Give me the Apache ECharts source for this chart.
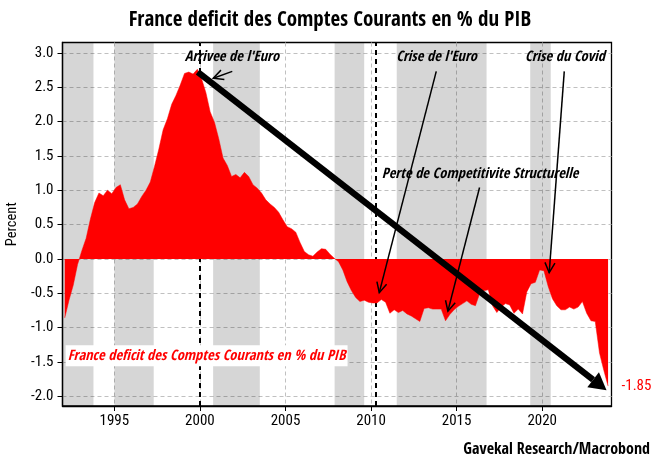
<!DOCTYPE html><html><head><meta charset="utf-8"><style>html,body{margin:0;background:#fff}#c{width:661px;height:470px}</style>
<script src="https://cdn.jsdelivr.net/npm/echarts@6/dist/echarts.min.js"></script></head><body><div id="c"></div><script>
const startYear=1992.1;
const values=[-0.86,-0.6,-0.38,-0.08,0.12,0.3,0.58,0.82,0.96,0.92,1.0,0.95,1.04,1.08,0.86,0.73,0.75,0.8,0.91,1.0,1.12,1.35,1.6,1.88,2.04,2.25,2.38,2.53,2.7,2.72,2.69,2.76,2.62,2.42,2.14,1.99,1.75,1.47,1.36,1.2,1.23,1.18,1.26,1.2,1.08,1.03,0.96,0.86,0.8,0.75,0.68,0.57,0.47,0.44,0.39,0.24,0.11,0.06,0.04,0.1,0.15,0.14,0.07,0.01,-0.04,-0.16,-0.33,-0.46,-0.56,-0.62,-0.6,-0.63,-0.64,-0.64,-0.59,-0.63,-0.79,-0.74,-0.78,-0.75,-0.8,-0.83,-0.87,-0.91,-0.72,-0.71,-0.73,-0.73,-0.73,-0.9,-0.81,-0.74,-0.69,-0.65,-0.61,-0.66,-0.68,-0.5,-0.46,-0.45,-0.68,-0.78,-0.7,-0.65,-0.67,-0.79,-0.73,-0.8,-0.48,-0.36,-0.34,-0.16,-0.17,-0.4,-0.58,-0.68,-0.74,-0.74,-0.7,-0.73,-0.7,-0.62,-0.79,-0.9,-0.91,-1.37,-1.62,-1.85];
const tickYears=[1995,2000,2005,2010,2015,2020];
const yTicks=[-2,-1.5,-1,-0.5,0,0.5,1,1.5,2,2.5,3];
const bands=[[1991.97,1993.78],[1995,1997.3],[2000.77,2003.5],[2007.87,2009.6],[2011.5,2016.75],[2019.3,2020.5]];
const dashedYears=[2000,2010.27];
const bigArrow=[[1999.87,2.72,2023.76,-1.91]];
const thinArrows=[[2001.89,2.73,2000.78,2.63],[2013.81,2.73,2010.48,-0.49],[2016.34,1.04,2014.49,-0.76],[2021.29,2.73,2020.41,-0.2]];
const notes=[["Arrivee de l'Euro",2001.87,2.93],["Crise de l'Euro",2013.83,2.93],["Crise du Covid",2021.33,2.93],["Perte de Competitivite Structurelle",2016.37,1.23]];
const seriesName="France deficit des Comptes Courants en % du PIB";
const F='"Open Sans Condensed","Roboto Condensed",sans-serif';
const R='"Roboto Condensed",sans-serif';
const points=values.map((v,i)=>[startYear+i/4,v]);
const noteLabel=n=>({coord:[n[1],n[2]],symbolSize:0,label:{show:true,position:'inside',formatter:n[0],color:'#000',fontFamily:F,fontWeight:'bold',fontStyle:'italic',fontSize:14.5}});
function arrowItem(lineW,headLen,headHalf,open){return (params,api)=>{
 const a=api.coord([api.value(0),api.value(1)]),b=api.coord([api.value(2),api.value(3)]);
 const dx=b[0]-a[0],dy=b[1]-a[1],L=Math.hypot(dx,dy),ux=dx/L,uy=dy/L;
 const bx=b[0]-ux*headLen,by=b[1]-uy*headLen;
 const p1=[bx-uy*headHalf,by+ux*headHalf],p2=[bx+uy*headHalf,by-ux*headHalf];
 const end=open?b:[bx,by];
 const kids=[{type:'polyline',shape:{points:[a,end]},style:{stroke:'#000',lineWidth:lineW,fill:null}}];
 kids.push(open?{type:'polyline',shape:{points:[p1,b,p2]},style:{stroke:'#000',lineWidth:lineW,fill:null}}
  :{type:'polygon',shape:{points:[p1,b,p2]},style:{fill:'#000'}});
 return {type:'group',children:kids};
};}
const chart=echarts.init(document.getElementById('c'),null,{renderer:'canvas'});
const axisCommon={axisLine:{onZero:false,lineStyle:{color:'#000',width:1.3}},splitLine:{show:true,lineStyle:{color:'#c0c0c0',type:[4,3],width:1}}};
chart.setOption({animation:false,
title:{text:seriesName,left:325,top:5,textAlign:'center',textStyle:{fontFamily:F,fontSize:21,fontWeight:'bold',color:'#000'}},
graphic:[{type:'text',right:11,top:442,style:{text:'Gavekal Research/Macrobond',fontFamily:F,fontWeight:'bold',fontSize:16,fill:'#000'}}],
grid:{left:62.5,right:49.5,top:42.5,bottom:64,show:true,borderColor:'#000',borderWidth:1.3,outerBoundsMode:'none'},
xAxis:{type:'value',min:1991.97,max:2024.05,...axisCommon,
 axisTick:{customValues:tickYears,length:5,lineStyle:{color:'#000'}},
 axisLabel:{customValues:tickYears,formatter:v=>String(v),color:'#000',fontFamily:R,fontSize:15,margin:8}},
yAxis:{type:'value',min:-2.14,max:3.15,name:'Percent',nameLocation:'middle',nameGap:34,nameRotate:90,nameTextStyle:{fontFamily:R,fontSize:14.5,color:'#000'},...axisCommon,
 axisTick:{customValues:yTicks,length:5,lineStyle:{color:'#000'}},
 axisLabel:{customValues:yTicks,formatter:v=>v.toFixed(1),color:'#000',fontFamily:R,fontSize:15,margin:9}},
series:[
{type:'line',z:1,data:[],silent:true,
 markArea:{silent:true,itemStyle:{color:'rgba(0,0,0,0.16)'},data:bands.map(b=>[{xAxis:b[0]},{xAxis:b[1]}])},
 markLine:{z:1,silent:true,symbol:'none',label:{show:false},lineStyle:{color:'#000',type:[5,4],width:2},data:dashedYears.map(x=>({xAxis:x}))}},
{name:seriesName,type:'line',z:2,data:points,showSymbol:false,smooth:false,lineStyle:{color:'#f00',width:0.5},itemStyle:{color:'#f00'},areaStyle:{color:'#f00',opacity:1,origin:0},
 markPoint:{z:7,silent:true,symbol:'circle',symbolSize:0,data:[...notes.map(noteLabel),
  {coord:[2000.39,-1.41],symbolSize:0,label:{show:true,position:'inside',formatter:seriesName,color:'#f00',backgroundColor:'#fff',padding:[3,2],fontFamily:F,fontWeight:'bold',fontStyle:'italic',fontSize:14.5}},
  {coord:[2024.05,values[values.length-1]],symbolSize:0,label:{show:true,position:'right',distance:10,formatter:String(values[values.length-1]),color:'#f00',fontFamily:R,fontSize:15}}]}},
{type:'custom',z:5,silent:true,data:bigArrow,encode:{x:[0,2],y:[1,3]},renderItem:arrowItem(6.2,17,9.5,false)},
{type:'custom',z:6,silent:true,data:thinArrows,encode:{x:[0,2],y:[1,3]},renderItem:arrowItem(1.5,10,5,true)}
]});
</script></body></html>
